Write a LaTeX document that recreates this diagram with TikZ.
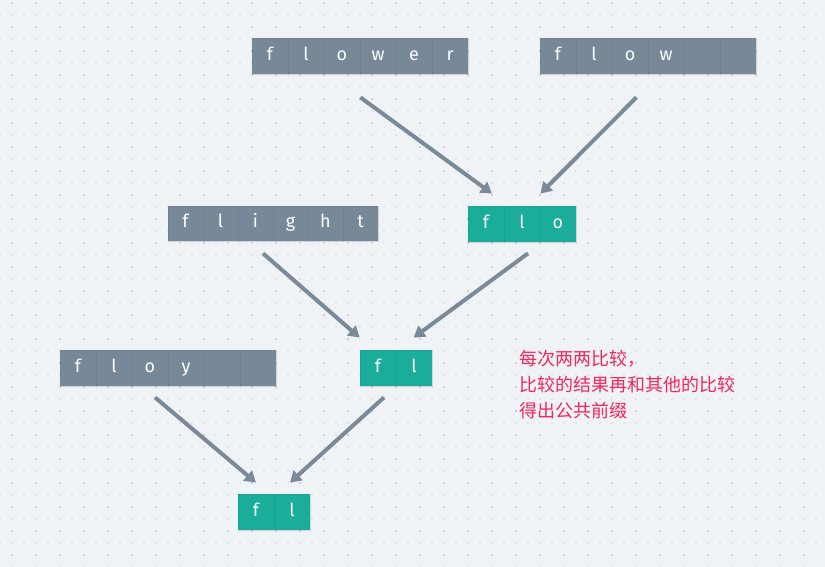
\documentclass[tikz,border=0pt]{standalone}
\usepackage{fontspec}
\setmainfont{Fira Sans}
\newfontfamily\cjkfont{Noto Sans CJK SC}
\usetikzlibrary{arrows.meta, calc, shadows}

\definecolor{bggray}{HTML}{F0F3F6}
\definecolor{dotlight}{HTML}{E0E4E9}
\definecolor{dotdark}{HTML}{C9CFD7}
\definecolor{cellgray}{HTML}{778899}
\definecolor{cellteal}{HTML}{1AAE9A}
\definecolor{arrowgray}{HTML}{7A8A99}
\definecolor{notered}{HTML}{F5265A}

\tikzstyle{cell} = [rectangle, fill=cellgray, draw=black, draw opacity=0.06, line width=0.8pt, text=white, minimum width=36pt, minimum height=36pt, inner sep=0pt, text height=12.5pt, text depth=3.5pt, font=\fontsize{18}{18}\selectfont, drop shadow={shadow xshift=1pt, shadow yshift=-1.5pt, opacity=0.15}]
\tikzstyle{hit} = [cell, fill=cellteal]
\tikzstyle{link} = [-{Triangle[length=11pt,width=13pt]}, line width=4pt, draw=arrowgray]
\tikzstyle{note} = [anchor=north west, align=left, inner sep=0pt, text=notered, font=\cjkfont\fontsize{18}{26}\selectfont]

\begin{document}
\begin{tikzpicture}[x=1pt, y=1pt]
        \useasboundingbox (0,0) rectangle (825,567);

        % Background with dotted grid
        \fill[bggray] (0,0) rectangle (825,567);
        \foreach \k in {0,...,47}
            \draw[dotlight, line width=2pt, dash pattern=on 2pt off 10pt] (-1,{564-12*\k}) -- (826,{564-12*\k});
        \foreach \k in {0,...,23}
            \draw[dotdark, line width=2pt, dash pattern=on 2pt off 22pt] (11,{564-24*\k}) -- (826,{564-24*\k});

        % Top: flower and flow
        \foreach \lt [count=\i] in {f,l,o,w,e,r}
            \node[cell] (flower-\i) at ({234+36*\i}, 511) {\lt};
        \foreach \lt [count=\i] in {f,l,o,w,{},{}}
            \node[cell] (flow-\i) at ({522+36*\i}, 511) {\lt};

        % Middle: flight and first result
        \foreach \lt [count=\i] in {f,l,i,g,h,t}
            \node[cell, minimum width=35pt, minimum height=35pt] (flight-\i) at ({150.5+35*\i}, 343.5) {\lt};
        \foreach \lt [count=\i] in {f,l,o}
            \node[hit] (flo-\i) at ({450+36*\i}, 343) {\lt};

        % Lower: floy and second result
        \foreach \lt [count=\i] in {f,l,o,y,{},{}}
            \node[cell] (floy-\i) at ({42+36*\i}, 199) {\lt};
        \foreach \lt [count=\i] in {f,l}
            \node[hit] (fl-\i) at ({342+36*\i}, 199) {\lt};

        % Bottom: final result
        \foreach \lt [count=\i] in {f,l}
            \node[hit] (res-\i) at ({220+36*\i}, 55) {\lt};

        % Arrows
        \draw[link] ($(flower-3.south east)+(0,-23)$) -- ($(flo-1.north)+(6,12)$);
        \draw[link] ($(flow-3.south east)+(-12,-23)$) -- ($(flo-2.north east)+(0,12)$);
        \draw[link] ($(flight-3.south)+(7.5,-12)$) -- ($(fl-1.north west)+(0,12)$);
        \draw[link] ($(flo-2.south)+(6,-11)$) -- ($(fl-2.north west)+(18,12)$);
        \draw[link] ($(floy-3.south)+(5,-11)$) -- ($(res-1.north)+(0,11)$);
        \draw[link] ($(fl-1.south)+(6,-11)$) -- ($(res-2.north)+(-2,11)$);

        % Note
        \node[note] (tip) at (519,217) {每次两两比较，\\比较的结果再和其他的比较\\得出公共前缀};
\end{tikzpicture}
\end{document}
